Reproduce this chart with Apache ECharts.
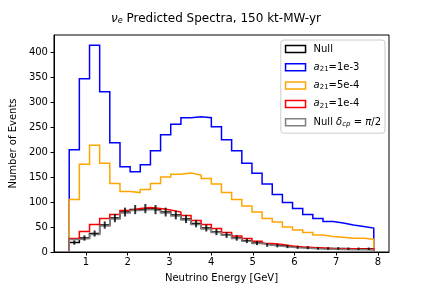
<!DOCTYPE html>
<html><head><meta charset="utf-8">
<script src="https://cdn.jsdelivr.net/npm/echarts@6/dist/echarts.min.js"></script>
<style>html,body{margin:0;padding:0;background:#fff}#c{width:432px;height:288px}</style>
</head><body><div id="c"></div>
<script>
// Bin edges (GeV)
const binEdges = [0.600, 0.843, 1.087, 1.330, 1.573, 1.817, 2.060, 2.303, 2.547, 2.790, 3.033,
  3.277, 3.520, 3.763, 4.007, 4.250, 4.493, 4.737, 4.980, 5.223, 5.467,
  5.710, 5.953, 6.197, 6.440, 6.683, 6.927, 7.170, 7.413, 7.657, 7.900];
// Series values (events per bin)
const nullVals = [19, 28, 37, 54, 68, 80, 85, 87, 85, 80, 74, 66, 57, 48, 40,
  34, 28, 22.5, 18, 14, 13, 11, 9.5, 8.5, 7.5, 7, 7, 6.5, 6.5, 6.5];
const nullErr = [4.4, 5.3, 6.1, 7.3, 8.2, 8.9, 9.2, 9.3, 9.2, 8.9, 8.6, 8.1, 7.5, 6.9, 6.3,
  5.8, 5.3, 4.7, 4.2, 3.7, 3.6, 3.3, 3.1, 2.9, 2.7, 2.6, 2.6, 2.5, 2.5, 2.5];
const a21_1e3 = [205, 347, 414, 321, 219, 171, 161, 175, 203, 235, 256, 269, 271, 269, 251,
  225, 203, 178, 158, 136, 115, 99, 87, 75, 67, 61, 58, 54, 51, 48];
const a21_5e4 = [105, 176, 214, 178, 137, 121, 119, 125, 137, 150, 156, 158, 154, 147, 136,
  119, 105, 92, 80, 67, 60, 50, 44, 39, 34, 31, 29.5, 27.5, 27.5, 25.5];
const a21_1e4 = [27, 41, 55, 67, 75, 83, 87, 89, 87, 84, 80, 73, 63, 55, 47,
  39, 32, 27, 21.5, 17, 15, 12, 10, 9, 8, 7, 6.5, 6.5, 6, 6];
const nullPi2 = [25, 27, 35, 52, 66, 78, 83, 85, 83, 78, 72, 64, 55, 46, 39,
  33.5, 27, 21.5, 17, 13.5, 11.5, 9.5, 8, 7, 6, 5.5, 5, 4.5, 4.5, 4];
const xTicks = [1, 2, 3, 4, 5, 6, 7, 8];
const yTicks = [0, 50, 100, 150, 200, 250, 300, 350, 400];
const seriesNames = ['Null', 'a21=1e-3', 'a21=5e-4', 'a21=1e-4', 'Null dcp=pi/2'];
const seriesColors = ['#000000', '#0000ff', '#ffa500', '#ff0000', '#808080'];
const legendLabels = {
  'Null': 'Null',
  'a21=1e-3': '{i|a}{sub|21}=1e-3',
  'a21=5e-4': '{i|a}{sub|21}=5e-4',
  'a21=1e-4': '{i|a}{sub|21}=1e-4',
  'Null dcp=pi/2': 'Null {i|δ}{subi|cp} = {i|π}/2'
};

function outline(edges, vals) {
  const pts = [[edges[0], 0]];
  for (let i = 0; i < vals.length; i++) {
    pts.push([edges[i], vals[i]]);
    pts.push([edges[i + 1], vals[i]]);
  }
  pts.push([edges[vals.length], 0]);
  return pts;
}
const allVals = [nullVals, a21_1e3, a21_5e4, a21_1e4, nullPi2];
const FONT = 'DejaVu Sans';
const series = allVals.map((v, k) => ({
  name: seriesNames[k],
  type: 'line',
  data: outline(binEdges, v),
  symbol: 'none',
  animation: false,
  lineStyle: { color: seriesColors[k], width: 1.5, join: 'miter' },
  itemStyle: { color: seriesColors[k] },
  z: 2 + k
}));
const errData = nullVals.map((v, i) => [(binEdges[i] + binEdges[i + 1]) / 2, v, nullErr[i]]);
series.push({
  type: 'custom',
  name: 'err',
  data: errData,
  animation: false,
  z: 10,
  renderItem: function (params, api) {
    const x = api.value(0), y = api.value(1), e = api.value(2);
    const p1 = api.coord([x, y - e]);
    const p2 = api.coord([x, y + e]);
    return { type: 'line', shape: { x1: p1[0], y1: p1[1], x2: p2[0], y2: p2[1] },
      style: { stroke: 'rgba(0,0,0,0.8)', lineWidth: 2 } };
  }
});

const chart = echarts.init(document.getElementById('c'), null, { renderer: 'canvas' });
chart.setOption({
  backgroundColor: '#ffffff',
  animation: false,
  textStyle: { fontFamily: FONT },
  title: {
    text: '{i|ν}{sub|e} Predicted Spectra, 150 kt-MW-yr',
    left: 111, top: 12,
    padding: 0,
    textStyle: {
      fontFamily: FONT, fontSize: 12, fontWeight: 'normal', color: '#000',
      rich: {
        i: { fontFamily: FONT, fontStyle: 'italic', fontSize: 12, color: '#000' },
        sub: { fontFamily: FONT, fontStyle: 'italic', fontSize: 8, color: '#000', padding: [5, 0, 0, 0] }
      }
    }
  },
  grid: { left: 52, right: 43, top: 35, bottom: 36, show: true, borderColor: '#000', borderWidth: 1, backgroundColor: 'transparent' },
  legend: {
    orient: 'vertical',
    right: 47, top: 40,
    data: seriesNames.map((n, k) => ({
      name: n, icon: 'rect',
      itemStyle: { color: 'rgba(0,0,0,0)', borderColor: seriesColors[k], borderWidth: 1.5 }
    })),
    itemWidth: 20, itemHeight: 7, itemGap: 6.3,
    padding: [3, 4, 5, 4],
    backgroundColor: 'rgba(255,255,255,0.8)',
    borderColor: '#cccccc', borderWidth: 1, borderRadius: 3,
    selectedMode: false,
    formatter: n => legendLabels[n],
    textStyle: {
      fontFamily: FONT, fontSize: 10, color: '#000', lineHeight: 12, padding: [0, 0, 0, 3],
      rich: {
        i: { fontFamily: FONT, fontStyle: 'italic', fontSize: 10, color: '#000' },
        sub: { fontFamily: FONT, fontSize: 7, color: '#000', padding: [4, 0, 0, 0] },
        subi: { fontFamily: FONT, fontStyle: 'italic', fontSize: 7, color: '#000', padding: [4, 0, 0, 0] }
      }
    }
  },
  xAxis: {
    type: 'value', min: 0.235, max: 8.265,
    name: 'Neutrino Energy [GeV]', nameLocation: 'middle', nameGap: 21,
    nameTextStyle: { fontFamily: FONT, fontSize: 10, color: '#000' },
    axisLine: { onZero: false, lineStyle: { color: '#000', width: 1 } },
    axisTick: { show: true, length: 3.5, customValues: xTicks, lineStyle: { color: '#000' } },
    axisLabel: { customValues: xTicks, fontFamily: FONT, fontSize: 10, color: '#000', margin: 5 },
    splitLine: { show: false }
  },
  yAxis: {
    type: 'value', min: 0, max: 434.7,
    name: 'Number of Events', nameLocation: 'middle', nameGap: 28,
    nameTextStyle: { fontFamily: FONT, fontSize: 10, color: '#000' },
    axisLine: { show: true, lineStyle: { color: '#000', width: 1 } },
    axisTick: { show: true, length: 3.5, customValues: yTicks, lineStyle: { color: '#000' } },
    axisLabel: { customValues: yTicks, fontFamily: FONT, fontSize: 10, color: '#000', margin: 6 },
    splitLine: { show: false }
  },
  series: series
});
</script>
</body></html>
